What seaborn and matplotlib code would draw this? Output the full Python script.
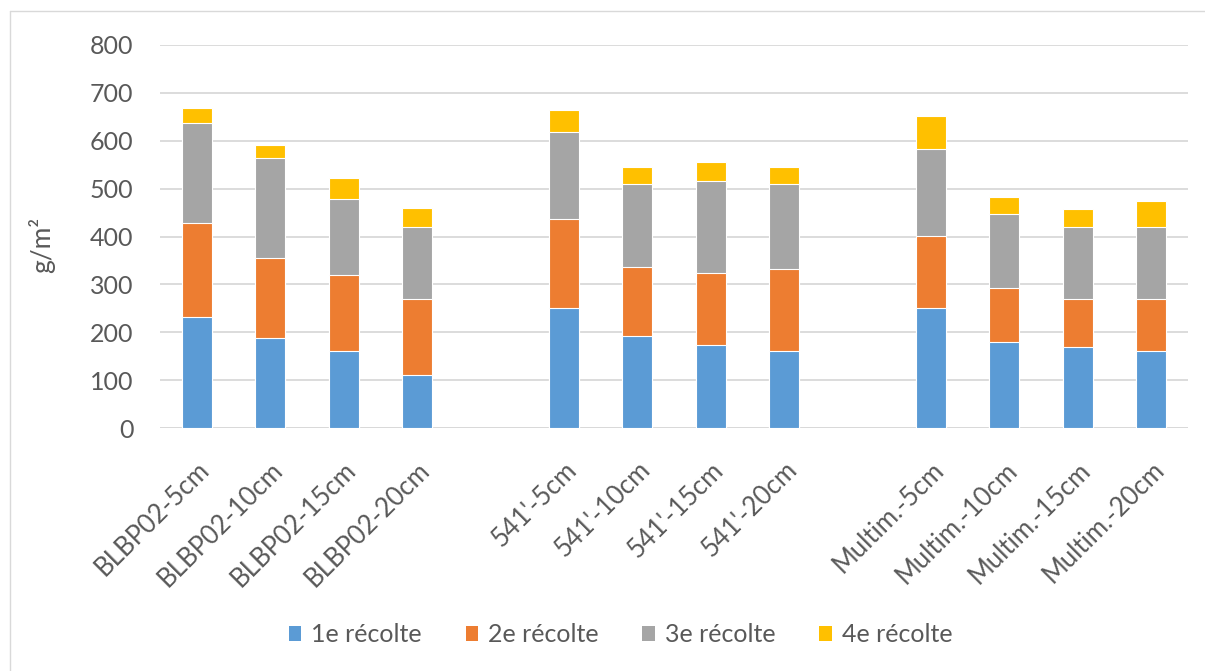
import numpy as np
import pandas as pd
import seaborn as sns
import matplotlib.pyplot as plt
from matplotlib.patches import Patch
from matplotlib.lines import Line2D

# Data (g/m2 per harvest)
categories = ["BLBP02-5cm", "BLBP02-10cm", "BLBP02-15cm", "BLBP02-20cm",
              "541'-5cm", "541'-10cm", "541'-15cm", "541'-20cm",
              "Multim.-5cm", "Multim.-10cm", "Multim.-15cm", "Multim.-20cm"]
recolte1 = [232, 188, 160, 110, 251, 193, 174, 160, 251, 179, 170, 160]
recolte2 = [197, 168, 160, 159, 186, 144, 150, 173, 150, 114, 99, 109]
recolte3 = [209, 208, 159, 150, 182, 173, 191, 177, 182, 154, 150, 150]
recolte4 = [31, 28, 44, 41, 46, 36, 40, 36, 69, 36, 38, 56]
series_names = ["1e récolte", "2e récolte", "3e récolte", "4e récolte"]
colors = ["#5B9BD5", "#ED7D31", "#A5A5A5", "#FFC000"]

# blank slots between the three groups
order = categories[:4] + [" "] + categories[4:8] + ["  "] + categories[8:]

df = pd.DataFrame({"cat": categories, "r1": recolte1, "r2": recolte2,
                   "r3": recolte3, "r4": recolte4})
cum = df[["r1", "r2", "r3", "r4"]].cumsum(axis=1)
cum["cat"] = df["cat"]

sns.set_style("white")
plt.rcParams['font.family'] = ['Lato', 'DejaVu Sans']
text_col = "#595959"

fig = plt.figure(figsize=(12.05, 6.71), dpi=100)
ax = fig.add_axes([160 / 1205, 1 - 428 / 671, 1028 / 1205, 383 / 671])

# stacked bars: draw totals first, then lower layers on top
for col, c in zip(["r4", "r3", "r2", "r1"], colors[::-1]):
    sns.barplot(data=cum, x="cat", y=col, order=order, color=c, width=0.41,
                saturation=1, edgecolor="white", linewidth=0.8, ax=ax, zorder=3)

ax.set_ylim(0, 800)
ax.set_yticks(np.arange(0, 801, 100))
ax.yaxis.grid(True, color="#D9D9D9", linewidth=1.3, zorder=0)
ax.set_axisbelow(True)
for s in ax.spines.values():
    s.set_visible(False)
ax.axhline(0, color="#D9D9D9", linewidth=1.3, zorder=2)

ax.tick_params(axis="y", length=0, pad=19, labelsize=18, labelcolor=text_col)
ax.tick_params(axis="x", length=0, pad=21, labelsize=18.5, labelcolor=text_col)
for lbl in ax.get_xticklabels():
    lbl.set_rotation(45)
    lbl.set_ha("right")
    lbl.set_va("top")
    lbl.set_rotation_mode("anchor")

ax.set_xlabel("")
ax.set_ylabel("g/m²", fontsize=19, color=text_col)
ax.yaxis.set_label_coords(-0.102, 0.478)

handles = [Patch(facecolor=c, edgecolor="none") for c in colors]
fig.legend(handles, series_names, loc="center", bbox_to_anchor=(0.515, 0.054),
           ncol=4, frameon=False, fontsize=18, labelcolor=text_col,
           handlelength=0.5, handleheight=0.5, handletextpad=0.4,
           columnspacing=1.75)

# outer chart frame (left and top edges visible)
fig.add_artist(Line2D([10 / 1205, 10 / 1205], [0, 1 - 11 / 671],
                      transform=fig.transFigure, color="#D9D9D9", linewidth=1))
fig.add_artist(Line2D([10 / 1205, 1], [1 - 11 / 671, 1 - 11 / 671],
                      transform=fig.transFigure, color="#D9D9D9", linewidth=1))

fig.savefig("out.png", dpi=100)
